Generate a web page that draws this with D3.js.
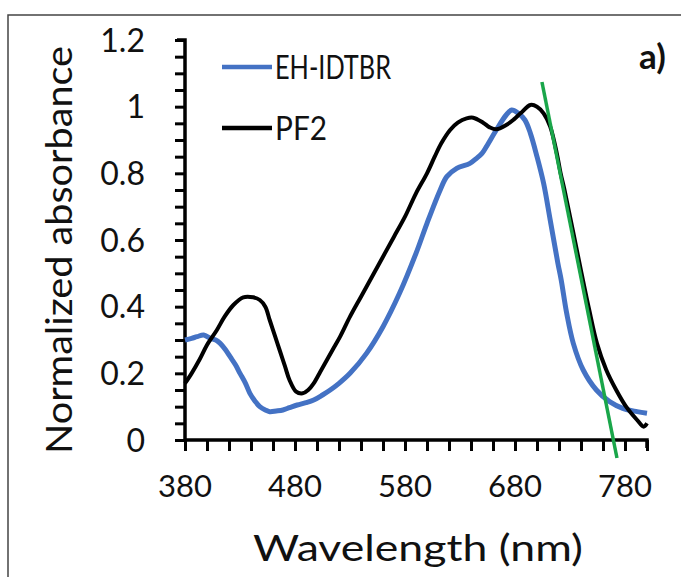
<!DOCTYPE html>
<html><head><meta charset="utf-8">
<script src="https://cdn.jsdelivr.net/npm/d3@7"></script>
<style>
body{margin:0;background:#fff}
svg{display:block}
text{font-family:Lato,"Open Sans",sans-serif;fill:#111}
</style>
</head><body><svg id="c" width="681" height="577"></svg>
<script>
// ---- data ----
const seriesNames = ["EH-IDTBR", "PF2"];
const seriesColors = ["#4472C4", "#000000"];
const wlIDTBR = [380,386,391,397,403,408,412,417,421,426,430,435,439,444,448,453,457,463,469,475,482,490,497,505,512,520,530,545,560,575,590,600,612,618,627,639,645,650,654,663,672,677,683,689,694,700,706,712,719,722,727,733,742,754,766,778,791,800];
const absIDTBR = [0.30,0.305,0.31,0.315,0.305,0.30,0.29,0.27,0.25,0.225,0.20,0.17,0.14,0.115,0.10,0.09,0.085,0.087,0.09,0.097,0.105,0.112,0.12,0.135,0.15,0.17,0.20,0.26,0.34,0.44,0.56,0.65,0.75,0.79,0.815,0.83,0.845,0.86,0.88,0.93,0.975,0.99,0.98,0.96,0.92,0.85,0.77,0.66,0.53,0.48,0.38,0.29,0.21,0.15,0.115,0.095,0.085,0.08];
const wlPF2 = [380,386,393,400,409,416,424,433,442,448,453,457,462,466,471,475,481,487,492,497,503,509,515,521,530,540,550,560,570,580,590,600,607,613,621,628,636,642,651,657,663,672,679,685,694,700,706,712,718,721.5,725,732.5,740.5,747.5,754.5,763,772,781,791,797,800];
const absPF2 = [0.17,0.20,0.24,0.285,0.33,0.37,0.405,0.428,0.428,0.42,0.40,0.36,0.31,0.27,0.22,0.18,0.145,0.14,0.15,0.17,0.205,0.24,0.275,0.31,0.37,0.43,0.49,0.55,0.61,0.67,0.74,0.80,0.85,0.89,0.93,0.952,0.965,0.967,0.952,0.938,0.932,0.945,0.962,0.98,1.005,1.0,0.98,0.94,0.86,0.80,0.75,0.63,0.50,0.39,0.29,0.21,0.15,0.10,0.06,0.04,0.05];
const tangentWl = [704.5, 772.7];
const tangentAbs = [1.074, -0.054];
const xTickLabels = [380,480,580,680,780];
const yTickLabels = [0,0.2,0.4,0.6,0.8,1,1.2];
const xLabel = "Wavelength (nm)";
const yLabel = "Normalized absorbance";
const panelLabel = "a)";

// ---- layout ----
const svg = d3.select("#c");
const x = d3.scaleLinear().domain([380,800]).range([185,647]);
const y = d3.scaleLinear().domain([0,1.2]).range([440,40]);

// frame
svg.append("rect").attr("x",8).attr("y",15).attr("width",700).attr("height",600)
  .attr("fill","none").attr("stroke","#444").attr("stroke-width",1.5);

// axes
const yAxis = d3.axisLeft(y).tickValues(d3.range(0,1.2001,0.05)).tickSize(10).tickFormat("");
const xAxis = d3.axisBottom(x).tickValues(d3.range(380,800.01,20)).tickSize(11).tickFormat("");
const gy = svg.append("g").attr("transform","translate(185,0)").call(yAxis);
const gx = svg.append("g").attr("transform","translate(0,440)").call(xAxis);
[gy,gx].forEach(g=>{
  g.select(".domain").attr("stroke","#000").attr("stroke-width",3.5);
  g.selectAll(".tick line").attr("stroke","#000").attr("stroke-width",3);
});
gy.select(".domain").attr("d","M-8,40H0V440");
gx.select(".domain").attr("d","M185,0H647V8");

// tick labels
svg.append("g").selectAll("text").data(yTickLabels).join("text")
  .attr("x",145).attr("y",d=>y(d)).attr("dy","0.36em").attr("text-anchor","end")
  .attr("font-size",32).text(d=>String(d));
svg.append("g").selectAll("text").data(xTickLabels).join("text")
  .attr("x",d=>x(d)).attr("y",497).attr("text-anchor","middle")
  .attr("font-size",31).text(d=>d);

// axis titles
svg.append("text").attr("x",418).attr("y",561).attr("text-anchor","middle")
  .attr("font-size",36).attr("textLength",330).attr("lengthAdjust","spacingAndGlyphs").text(xLabel);
svg.append("text").attr("transform","translate(72,250) rotate(-90)").attr("text-anchor","middle")
  .attr("font-size",37).attr("textLength",408).attr("lengthAdjust","spacingAndGlyphs").text(yLabel);

// series
const line = d3.line().x(d=>x(d[0])).y(d=>y(d[1])).curve(d3.curveCatmullRom.alpha(0.5));
const blueData = wlIDTBR.map((w,i)=>[w,absIDTBR[i]]);
const blackData = wlPF2.map((w,i)=>[w,absPF2[i]]);
svg.append("path").datum(blueData).attr("d",line).attr("fill","none")
  .attr("stroke",seriesColors[0]).attr("stroke-width",5).attr("stroke-linejoin","round");
svg.append("path").datum(blackData).attr("d",line).attr("fill","none")
  .attr("stroke",seriesColors[1]).attr("stroke-width",4).attr("stroke-linejoin","round");

// tangent line
svg.append("line")
  .attr("x1",x(tangentWl[0])).attr("y1",y(tangentAbs[0]))
  .attr("x2",x(tangentWl[1])).attr("y2",y(tangentAbs[1]))
  .attr("stroke","#1aa64a").attr("stroke-width",3.5);

// legend
const legendTextLen = [116, 52];
const leg = svg.append("g");
seriesNames.forEach((n,i)=>{
  const ly = 67 + i*61;
  leg.append("line").attr("x1",222).attr("x2",272).attr("y1",ly).attr("y2",ly)
    .attr("stroke",seriesColors[i]).attr("stroke-width",4.5);
  leg.append("text").attr("x",275).attr("y",ly).attr("dy","0.36em")
    .attr("font-size",32).attr("textLength",legendTextLen[i]).attr("lengthAdjust","spacingAndGlyphs").text(n);
});

// panel label
svg.append("text").attr("x",639).attr("y",69).attr("font-size",35).attr("font-weight","bold").text(panelLabel);
</script>
</body></html>
